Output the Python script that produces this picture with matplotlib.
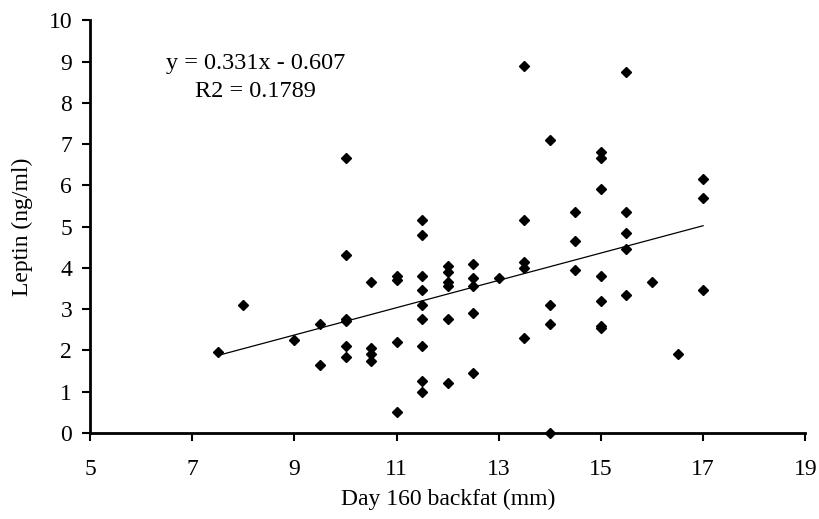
import numpy as np
import matplotlib
matplotlib.use('Agg')
import matplotlib.pyplot as plt

# backfat (mm) and leptin (ng/ml)
backfat = [7.5, 8, 9, 9.5, 9.5,
           10, 10, 10, 10, 10, 10,
           10.5, 10.5, 10.5, 10.5,
           11, 11, 11, 11,
           11.5, 11.5, 11.5, 11.5, 11.5, 11.5, 11.5, 11.5, 11.5,
           12, 12, 12, 12, 12, 12,
           12.5, 12.5, 12.5, 12.5, 12.5,
           13,
           13.5, 13.5, 13.5, 13.5, 13.5,
           14, 14, 14, 14,
           14.5, 14.5, 14.5,
           15, 15, 15, 15, 15, 15, 15,
           15.5, 15.5, 15.5, 15.5, 15.5,
           16, 16.5,
           17, 17, 17]
leptin = [1.95, 3.1, 2.25, 2.65, 1.65,
          6.65, 4.3, 2.75, 2.7, 2.1, 1.85,
          3.65, 2.05, 1.9, 1.75,
          3.8, 3.7, 2.2, 0.5,
          5.15, 4.8, 3.8, 3.45, 3.1, 2.75, 2.1, 1.25, 1.0,
          4.05, 3.9, 3.65, 3.55, 2.75, 1.2,
          4.1, 3.75, 3.55, 2.9, 1.45,
          3.75,
          8.9, 5.15, 4.15, 4.0, 2.3,
          7.1, 3.1, 2.65, 0.0,
          5.35, 4.65, 3.95,
          6.8, 6.65, 5.9, 3.8, 3.2, 2.6, 2.55,
          8.75, 5.35, 4.85, 4.45, 3.35,
          3.65, 1.9,
          6.15, 5.7, 3.45]

slope, intercept = 0.331, -0.607
r2 = 0.1789
x_ticks = [5, 7, 9, 11, 13, 15, 17, 19]
y_ticks = list(range(0, 11))

plt.rcParams['font.family'] = ['Liberation Serif', 'DejaVu Serif']

fig = plt.figure(figsize=(8.2, 5.19), dpi=100)
ax = fig.add_axes([0.110, 0.166, 0.872, 0.795])

ax.plot(backfat, leptin, 'D', color='black', markersize=5.5, clip_on=False, zorder=3)

# trend line over the data range
xs = np.array([min(backfat), max(backfat)])
ax.plot(xs, slope * xs + intercept, color='black', linewidth=0.9)

ax.set_xlim(5, 19)
ax.set_ylim(0, 10)
ax.set_xticks(x_ticks)
ax.set_yticks(y_ticks)

for s in ['top', 'right']:
    ax.spines[s].set_visible(False)
for s in ['left', 'bottom']:
    ax.spines[s].set_linewidth(2.0)
ax.tick_params(direction='out', length=6, width=1.5, labelsize=17)
ax.tick_params(axis='x', pad=13)
ax.tick_params(axis='y', pad=7)

ax.set_xlabel('Day 160 backfat (mm)', fontsize=17, labelpad=6)
ax.set_ylabel('Leptin (ng/ml)', fontsize=17, labelpad=11)

ax.text(8.24, 8.96, 'y = 0.331x - 0.607', ha='center', va='center', fontsize=17.5)
ax.text(8.24, 8.28, 'R2 = %.4f' % r2, ha='center', va='center', fontsize=17.5)

fig.savefig('out.png', dpi=100)
